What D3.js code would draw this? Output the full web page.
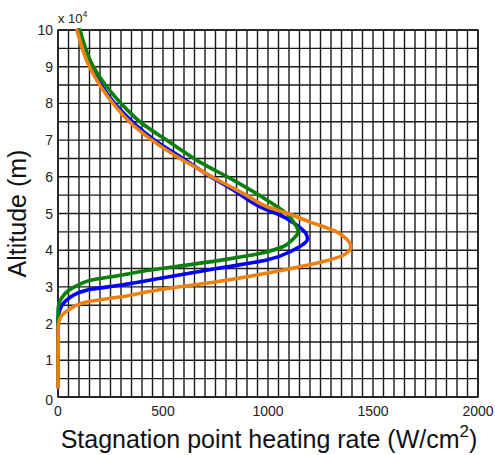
<!DOCTYPE html>
<html>
<head>
<meta charset="utf-8">
<script src="https://cdn.jsdelivr.net/npm/d3@7"></script>
<style>
  html, body { margin: 0; padding: 0; background: #fff; }
  svg { display: block; font-family: "Liberation Sans", Arial, sans-serif; }
</style>
</head>
<body>
<svg id="chart" width="495" height="455"></svg>
<script>
// Altitude in units of 10^4 m, heating rate in W/cm^2
const orangeAlt = [0.27, 1.0, 1.9, 2.05, 2.2, 2.37, 2.6, 2.73, 2.92, 3.14, 3.46, 3.69, 3.9, 4.1, 4.3, 4.5, 4.78, 5.0, 5.19, 5.5, 5.69, 6.0, 6.19, 6.5, 7.0, 7.5, 8.0, 9.0, 10.0];
const orangeQ   = [0, 0, 1, 5, 15, 49, 145, 303, 480, 755, 1073, 1263, 1370, 1395, 1375, 1327, 1195, 1095, 994, 895, 835, 732, 676, 581, 447, 340, 262, 150, 90];

const blueAlt = [0.27, 2.0, 2.2, 2.4, 2.6, 2.92, 3.05, 3.25, 3.5, 3.73, 4.0, 4.15, 4.3, 4.46, 4.69, 5.0, 5.1, 5.64, 6.1, 6.5, 7.0, 8.0, 9.0, 10.0];
const blueQ   = [0, 0, 2, 10, 33, 145, 303, 502, 755, 994, 1120, 1165, 1188, 1180, 1136, 1041, 994, 835, 700, 595, 460, 270, 158, 97];

const greenAlt = [0.27, 2.3, 2.5, 2.62, 2.75, 2.9, 3.05, 3.19, 3.32, 3.46, 3.6, 3.75, 3.91, 4.1, 4.28, 4.5, 4.64, 4.78, 4.91, 5.37, 5.91, 6.4, 7.0, 7.5, 8.0, 9.0, 10.0];
const greenQ   = [0, 0, 3, 10, 24, 50, 95, 160, 300, 440, 620, 800, 960, 1073, 1115, 1144, 1136, 1120, 1105, 994, 835, 676, 517, 390, 300, 168, 105];

const xTickLabels = [0, 500, 1000, 1500, 2000];
const yTickLabels = [0, 1, 2, 3, 4, 5, 6, 7, 8, 9, 10];

const series = [
  { name: "blue",   alt: blueAlt,   q: blueQ,   color: "#0000ff" },
  { name: "green",  alt: greenAlt,  q: greenQ,  color: "#0a7f0a" },
  { name: "orange", alt: orangeAlt, q: orangeQ, color: "#ee8010" }
];

const svg = d3.select("#chart");
const m = { left: 58, right: 17, top: 30, bottom: 58 };
const W = 495, H = 455;
const x = d3.scaleLinear().domain([0, 2000]).range([m.left, W - m.right]);
const y = d3.scaleLinear().domain([0, 10]).range([H - m.bottom, m.top]);

// grid
const grid = svg.append("g").attr("stroke", "#1a1a1a").attr("stroke-width", 1.4);
grid.selectAll("line.v").data(d3.range(0, 2000 + 1, 50)).join("line")
  .attr("x1", d => x(d)).attr("x2", d => x(d))
  .attr("y1", y(0)).attr("y2", y(10));
grid.selectAll("line.h").data(d3.range(0, 10.01, 0.5)).join("line")
  .attr("y1", d => y(d)).attr("y2", d => y(d))
  .attr("x1", x(0)).attr("x2", x(2000));

// frame
svg.append("rect").attr("x", x(0)).attr("y", y(10))
  .attr("width", x(2000) - x(0)).attr("height", y(0) - y(10))
  .attr("fill", "none").attr("stroke", "#1a1a1a").attr("stroke-width", 1.5);

// curves
const line = d3.line().curve(d3.curveMonotoneY);
series.forEach(s => {
  const pts = s.alt.map((a, i) => [x(s.q[i]), y(a)]);
  svg.append("path").attr("d", line(pts))
    .attr("fill", "none").attr("stroke", s.color)
    .attr("stroke-width", 3.6).attr("stroke-linejoin", "round").attr("stroke-linecap", "round");
});

// tick labels
svg.append("g").selectAll("text").data(xTickLabels).join("text")
  .attr("x", d => x(d)).attr("y", y(0) + 19)
  .attr("text-anchor", "middle").attr("font-size", 14).attr("fill", "#222")
  .text(d => d);
svg.append("g").selectAll("text").data(yTickLabels).join("text")
  .attr("x", x(0) - 5).attr("y", d => y(d) + 5 + (d === 0 ? 3 : 0))
  .attr("text-anchor", "end").attr("font-size", 14).attr("fill", "#222")
  .text(d => d);

// exponent label
const ex = svg.append("text").attr("x", x(0)).attr("y", y(10) - 7)
  .attr("font-size", 13).attr("fill", "#222");
ex.append("tspan").text("x 10");
ex.append("tspan").attr("dy", -6).attr("font-size", 9).text("4");

// axis titles
const xt = svg.append("text").attr("x", (x(0) + x(2000)) / 2 + 1).attr("y", 448)
  .attr("text-anchor", "middle").attr("font-size", 25).attr("fill", "#111");
xt.append("tspan").text("Stagnation point heating rate (W/cm");
xt.append("tspan").attr("dy", -11).attr("font-size", 17).text("2");
xt.append("tspan").attr("dy", 11).text(")");

svg.append("text")
  .attr("transform", `translate(26, ${(y(0) + y(10)) / 2}) rotate(-90)`)
  .attr("text-anchor", "middle").attr("font-size", 25).attr("fill", "#111")
  .text("Altitude (m)");
</script>
</body>
</html>
